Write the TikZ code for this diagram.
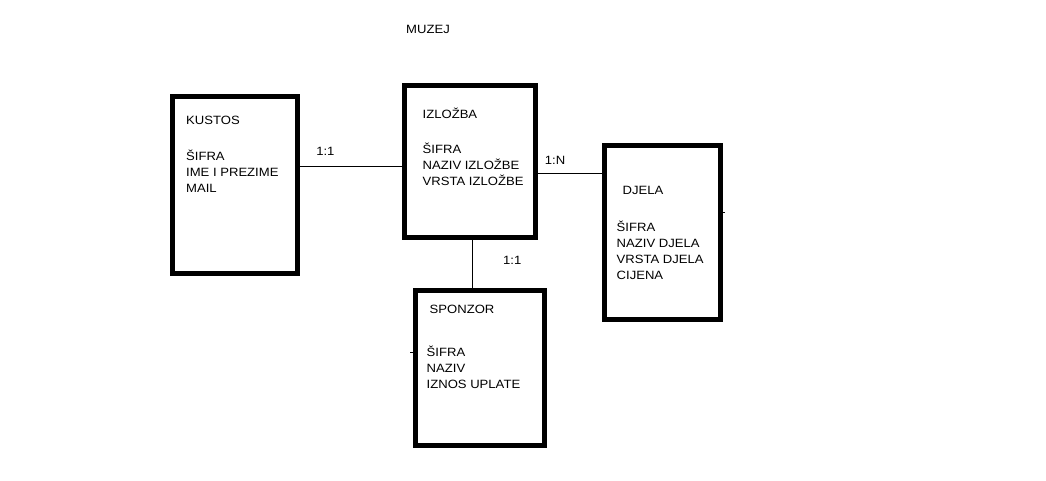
\documentclass[tikz,border=0pt]{standalone}
\usepackage{fontspec}
\setmainfont[FakeStretch=1.09]{Liberation Sans}
\usetikzlibrary{positioning}

\begin{document}
\begin{tikzpicture}[x=1pt,y=-1pt,every node/.style={font=\fontsize{12}{16}\selectfont,inner sep=0pt},
 entity/.style={draw,line width=5pt},
 title/.style={anchor=base west},
 attrs/.style={anchor=north west,align=left},
 card/.style={anchor=base,yshift=9pt}]
\useasboundingbox (0,0) rectangle (1046,481);
\node[title] (muzej) at (406,34) {MUZEJ};
% entities
\node[entity,minimum width=125pt,minimum height=177pt] (kustos) at (235,185) {};
\node[title] (kustos-t) at (186,125) {KUSTOS};
\node[attrs] (kustos-a) at (186,148.8) {\strut ŠIFRA\\IME I PREZIME\\MAIL};
\node[entity,minimum width=131.5pt,minimum height=151.5pt] (izlozba) at (469.75,161.75) {};
\node[title] (izlozba-t) at (422.5,118.3) {IZLOŽBA};
\node[attrs] (izlozba-a) at (422.5,142.1) {\strut ŠIFRA\\NAZIV IZLOŽBE\\VRSTA IZLOŽBE};
\node[entity,minimum width=116.5pt,minimum height=173pt] (djela) at (662.25,232.5) {};
\node[title] (djela-t) at (622.5,195) {DJELA};
\node[attrs] (djela-a) at (616.5,220.5) {\strut ŠIFRA\\NAZIV DJELA\\VRSTA DJELA\\CIJENA};
\node[entity,minimum width=128.5pt,minimum height=155pt] (sponzor) at (479.75,368) {};
\node[title] (sponzor-t) at (429.5,313.3) {SPONZOR};
\node[attrs] (sponzor-a) at (426.5,345.5) {\strut ŠIFRA\\NAZIV\\IZNOS UPLATE};
% relations
\draw (kustos.east |- 0,166) -- node[card,pos=0.25,yshift=1pt] (r1) {1:1} (izlozba.west |- 0,166);
\draw (izlozba.east |- 0,173) -- node[card,pos=0.27,yshift=-1pt] (r2) {1:N} (djela.west |- 0,173);
\draw (izlozba.south -| 472,0) -- node[anchor=base west,xshift=31pt] (r3) {1:1} (sponzor.north -| 472,0);
\draw (djela.east |- 0,212) -- ++(2,0);
\draw (sponzor.west |- 0,352) -- ++(-3,0);
\end{tikzpicture}
\end{document}
